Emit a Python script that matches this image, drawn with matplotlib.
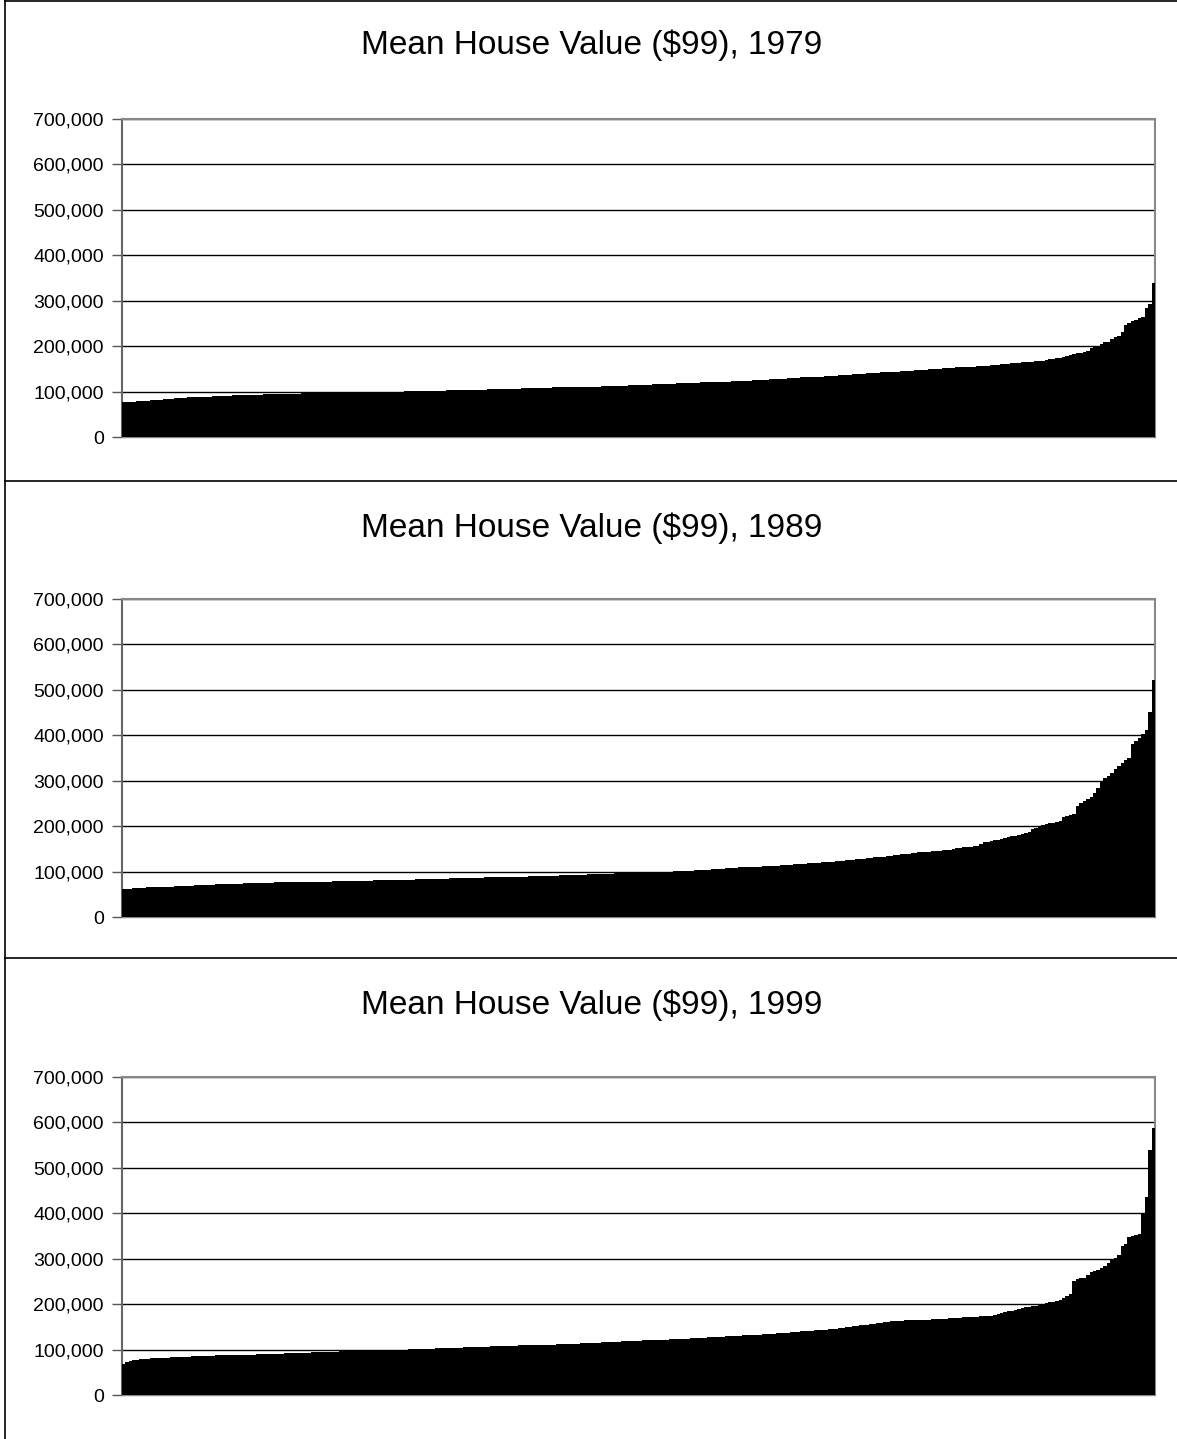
import numpy as np
import matplotlib.pyplot as plt
from matplotlib.lines import Line2D
from matplotlib.ticker import FuncFormatter

plt.rcParams['font.family'] = ['Liberation Sans', 'DejaVu Sans']

# mean house value per town, sorted, in thousands of 1999 dollars
v1979 = [
    77, 77, 78, 78, 79, 79, 80, 80, 81, 81,
    82, 82, 83, 83, 84, 85, 85, 86, 86, 87,
    87, 88, 88, 89, 89, 89, 90, 90, 90, 91,
    91, 91, 92, 92, 92, 92, 93, 93, 93, 93,
    93, 94, 94, 94, 94, 94, 95, 95, 95, 95,
    95, 95, 96, 96, 96, 96, 96, 97, 97, 97,
    97, 97, 97, 98, 98, 98, 98, 98, 98, 99,
    99, 99, 99, 99, 99, 100, 100, 100, 100, 100,
    100, 100, 101, 101, 101, 101, 101, 101, 102, 102,
    102, 102, 102, 102, 103, 103, 103, 103, 103, 103,
    104, 104, 104, 104, 104, 104, 105, 105, 105, 105,
    105, 106, 106, 106, 106, 106, 107, 107, 107, 107,
    107, 108, 108, 108, 108, 109, 109, 109, 109, 109,
    110, 110, 110, 110, 111, 111, 111, 111, 111, 112,
    112, 112, 112, 113, 113, 113, 113, 114, 114, 114,
    114, 115, 115, 115, 116, 116, 116, 116, 117, 117,
    117, 118, 118, 118, 118, 119, 119, 119, 120, 120,
    120, 121, 121, 121, 122, 122, 122, 123, 123, 123,
    124, 124, 124, 125, 125, 126, 126, 126, 127, 127,
    128, 128, 128, 129, 129, 130, 130, 131, 131, 132,
    132, 132, 133, 133, 134, 134, 135, 135, 136, 136,
    137, 137, 138, 138, 139, 139, 140, 140, 141, 141,
    142, 142, 143, 143, 144, 144, 145, 145, 146, 146,
    147, 147, 148, 148, 149, 149, 150, 150, 151, 151,
    152, 152, 153, 153, 154, 154, 155, 155, 156, 156,
    157, 157, 158, 158, 159, 160, 160, 161, 162, 163,
    163, 164, 165, 165, 166, 167, 168, 168, 170, 171,
    172, 174, 175, 176, 178, 180, 182, 184, 186, 188,
    190, 195, 198, 200, 205, 209, 210, 215, 220, 222,
    231, 247, 252, 256, 258, 262, 265, 285, 293, 338,
]

v1989 = [
    61, 62, 62, 63, 63, 64, 64, 65, 65, 66,
    66, 66, 67, 67, 67, 68, 68, 68, 69, 69,
    69, 70, 70, 70, 71, 71, 71, 72, 72, 72,
    72, 73, 73, 73, 73, 74, 74, 74, 74, 75,
    75, 75, 75, 75, 76, 76, 76, 76, 76, 77,
    77, 77, 77, 77, 77, 78, 78, 78, 78, 78,
    78, 79, 79, 79, 79, 79, 79, 80, 80, 80,
    80, 80, 80, 81, 81, 81, 81, 81, 81, 82,
    82, 82, 82, 82, 82, 83, 83, 83, 83, 83,
    84, 84, 84, 84, 84, 85, 85, 85, 85, 85,
    86, 86, 86, 86, 86, 87, 87, 87, 87, 87,
    88, 88, 88, 88, 89, 89, 89, 89, 90, 90,
    90, 90, 90, 91, 91, 91, 91, 92, 92, 92,
    92, 93, 93, 93, 93, 94, 94, 94, 94, 95,
    95, 95, 95, 96, 96, 96, 97, 97, 97, 97,
    98, 98, 98, 99, 99, 99, 99, 100, 100, 100,
    101, 101, 101, 102, 102, 102, 103, 103, 104, 104,
    104, 105, 105, 106, 106, 107, 107, 108, 108, 109,
    109, 110, 110, 110, 111, 111, 112, 112, 112, 113,
    113, 114, 114, 115, 115, 116, 116, 117, 117, 118,
    118, 119, 119, 120, 121, 121, 122, 123, 123, 124,
    125, 125, 126, 127, 128, 128, 129, 130, 131, 132,
    133, 133, 134, 135, 136, 137, 138, 138, 139, 140,
    141, 142, 143, 143, 144, 145, 146, 146, 147, 147,
    148, 150, 151, 152, 153, 153, 155, 156, 157, 160,
    164, 166, 168, 169, 170, 171, 174, 176, 178, 179,
    180, 182, 184, 187, 193, 195, 198, 202, 204, 206,
    208, 209, 212, 220, 222, 225, 226, 245, 250, 256,
    260, 265, 272, 285, 300, 305, 310, 316, 325, 332,
    340, 345, 350, 380, 388, 395, 402, 412, 452, 522,
]

v1999 = [
    69, 72, 75, 77, 78, 79, 80, 80, 81, 81,
    81, 82, 82, 82, 83, 83, 83, 84, 84, 84,
    85, 85, 85, 86, 86, 86, 86, 87, 87, 87,
    87, 88, 88, 88, 88, 89, 89, 89, 89, 90,
    90, 90, 90, 91, 91, 91, 91, 92, 92, 92,
    92, 93, 93, 93, 93, 94, 94, 94, 94, 95,
    95, 95, 95, 96, 96, 96, 96, 97, 97, 97,
    97, 98, 98, 98, 98, 99, 99, 99, 99, 100,
    100, 100, 100, 101, 101, 101, 101, 102, 102, 102,
    102, 103, 103, 103, 103, 104, 104, 104, 104, 105,
    105, 105, 105, 106, 106, 106, 106, 107, 107, 107,
    107, 108, 108, 108, 108, 109, 109, 109, 110, 110,
    110, 110, 111, 111, 111, 111, 112, 112, 112, 113,
    113, 113, 113, 114, 114, 114, 115, 115, 115, 116,
    116, 116, 117, 117, 117, 118, 118, 118, 119, 119,
    119, 120, 120, 120, 121, 121, 121, 122, 122, 123,
    123, 123, 124, 124, 124, 125, 125, 126, 126, 126,
    127, 127, 128, 128, 128, 129, 129, 130, 130, 130,
    131, 131, 132, 132, 133, 133, 134, 134, 135, 135,
    136, 136, 137, 137, 138, 138, 139, 140, 140, 141,
    141, 142, 143, 143, 144, 145, 145, 146, 147, 148,
    149, 150, 151, 152, 153, 154, 155, 156, 157, 158,
    159, 160, 161, 162, 162, 163, 163, 164, 164, 165,
    165, 165, 166, 166, 166, 167, 167, 167, 168, 168,
    169, 169, 170, 170, 171, 171, 171, 172, 172, 173,
    173, 174, 175, 176, 178, 180, 182, 184, 186, 188,
    190, 191, 193, 194, 195, 196, 198, 200, 202, 204,
    205, 207, 210, 214, 219, 222, 252, 255, 257, 258,
    265, 270, 273, 276, 280, 284, 290, 298, 302, 308,
    328, 332, 347, 350, 352, 355, 398, 435, 540, 588,
]

years = ['1979', '1989', '1999']
series = [v1979, v1989, v1999]

W, H = 1177, 1439
fig = plt.figure(figsize=(W/100, H/100), dpi=100)

# plot area bottoms in pixels for each panel
bottoms_px = [437, 917, 1395]
plot_h = 318
title_y_px = [45, 528, 1005]

for k in range(3):
    vals = np.array(series[k]) * 1000
    ax = fig.add_axes([122/W, 1 - bottoms_px[k]/H, 1033/W, plot_h/H])
    x = np.arange(len(vals))
    ax.bar(x, vals, width=1.0, color='black', edgecolor='none', zorder=3)
    ax.set_xlim(-0.5, len(vals) - 0.5)
    ax.set_ylim(0, 700000)
    ax.set_yticks(np.arange(0, 700001, 100000))
    ax.yaxis.set_major_formatter(FuncFormatter(lambda v, p: '{:,.0f}'.format(v)))
    ax.set_xticks([])
    ax.tick_params(axis='y', direction='out', length=7, width=1, color='#555555',
                   labelsize=14, pad=6)
    ax.yaxis.grid(True, color='black', linewidth=1)
    ax.set_axisbelow(True)
    for s in ['top', 'right']:
        ax.spines[s].set_color('#888888')
        ax.spines[s].set_linewidth(1.5)
    ax.spines['left'].set_color('#666666')
    ax.spines['left'].set_linewidth(1.5)
    ax.spines['bottom'].set_color('#888888')
    ax.spines['bottom'].set_linewidth(1)
    fig.text(592/W, 1 - title_y_px[k]/H, 'Mean House Value ($99), ' + years[k],
             ha='center', va='center', fontsize=24)

# chart frames
fig.add_artist(Line2D([5/W, 5/W], [0, 1], color='black', linewidth=1.2))
for yp in [0.5, 481, 958]:
    fig.add_artist(Line2D([5/W, 1], [1 - yp/H, 1 - yp/H], color='black', linewidth=1.2))

fig.savefig('out.png', dpi=100)
